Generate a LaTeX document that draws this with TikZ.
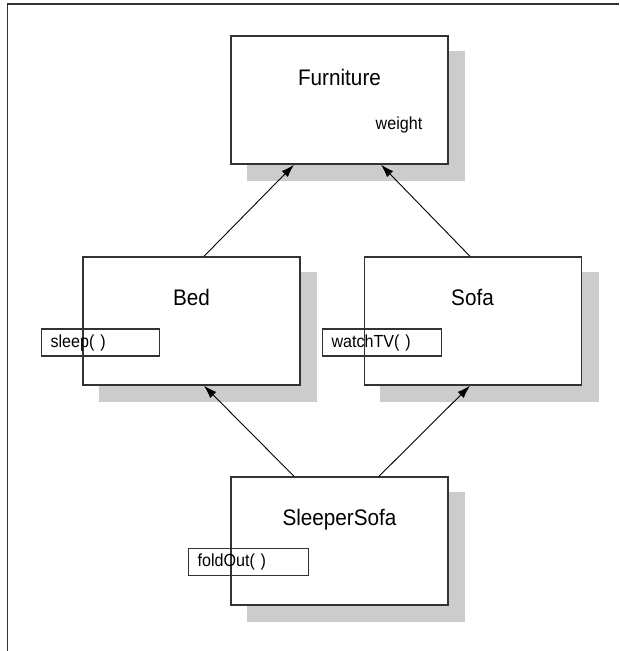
\documentclass[tikz,border=0pt]{standalone}
\usepackage{fontspec}
\setmainfont{Liberation Sans}[FakeStretch=0.92]
\usetikzlibrary{arrows.meta,backgrounds}
\definecolor{shadowgray}{HTML}{CCCCCC}
\definecolor{linegray}{HTML}{333333}
\tikzset{
  classbox/.style={draw=linegray, line width=1.4pt, fill=white, minimum width=217pt, minimum height=128pt, inner sep=0pt},
  classname/.style={font=\fontsize{22.5}{26}\selectfont, inner sep=0pt},
  attrname/.style={font=\fontsize{17.5}{20}\selectfont, inner sep=0pt},
  methodbox/.style={draw=linegray, line width=1.2pt, minimum height=27pt, inner xsep=9pt, inner ysep=0pt, align=left, anchor=west, font=\fontsize{17.5}{20}\selectfont},
  inherit/.style={draw=black, line width=0.9pt, -{Latex[length=13pt,width=8.5pt]}},
  shadowfill/.style={fill=shadowgray, draw=none}
}
\begin{document}
\begin{tikzpicture}[x=1pt,y=-1pt]
\useasboundingbox (0,0) rectangle (619,651);
\draw[line width=1.4pt, draw=linegray] (7.5,651) -- (7.5,4) -- (619,4);

\node[classbox] (furn) at (339.5,100) {};
\node[classbox] (bed) at (191.5,321) {};
\node[classbox] (sofa) at (473,321) {};
\node[classbox] (sleeper) at (339.5,541) {};

\begin{pgfonlayer}{background}
  \foreach \b in {furn,bed,sofa,sleeper}{
    \path[shadowfill] ([xshift=16.5pt,yshift=-16pt]\b.south west) rectangle ([xshift=16.5pt,yshift=-16pt]\b.north east);
  }
\end{pgfonlayer}

\node[classname] (furnlbl) at (339.5,77) {Furniture};
\node[attrname] (weightlbl) at (399,125) {weight};
\node[classname] (bedlbl) at (191.5,297) {Bed};
\node[classname] (sofalbl) at (472.5,297) {Sofa};
\node[classname] (sleeperlbl) at (339.5,520) {SleeperSofa};

\node[methodbox, text width=100pt] (sleepm) at (41,342.5) {sleep( )};
\node[methodbox, text width=101pt] (watchm) at (322,342.5) {watchTV( )};
\node[methodbox, text width=102pt] (foldm) at (188,562) {foldOut( )};

\draw[inherit] ([xshift=12.5pt]bed.north) -- ([xshift=-45.5pt]furn.south);
\draw[inherit] ([xshift=-3pt]sofa.north) -- ([xshift=41.5pt]furn.south);
\draw[inherit] ([xshift=-45.5pt]sleeper.north) -- ([xshift=12.5pt]bed.south);
\draw[inherit] ([xshift=39.5pt]sleeper.north) -- ([xshift=-3pt]sofa.south);
\end{tikzpicture}
\end{document}
